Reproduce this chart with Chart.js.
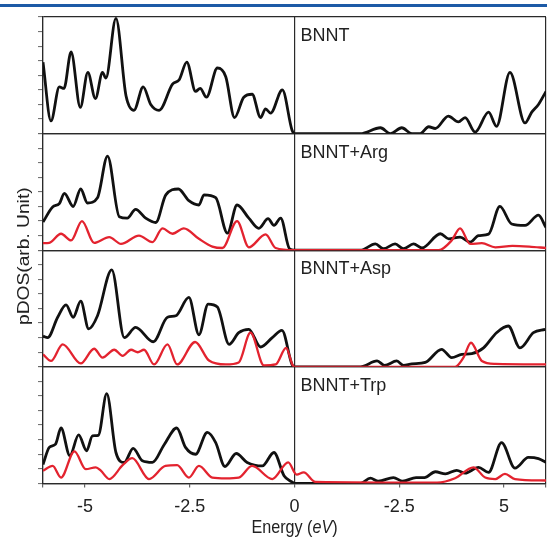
<!DOCTYPE html>
<html>
<head>
<meta charset="utf-8">
<script src="https://cdn.jsdelivr.net/npm/chart.js@4.4.0/dist/chart.umd.min.js"></script>
<style>
  html, body { margin: 0; padding: 0; background: #fff; overflow: hidden; }
  #wrap { position: relative; width: 547px; height: 538px; overflow: hidden; }
  #topRule { position: absolute; left: 0; top: 4px; width: 547px; height: 3px; background: #1c5aa6; }
  canvas { position: absolute; left: 0; top: 0; }
</style>
</head>
<body>
<div id="wrap">
  <canvas id="dosChart" width="555" height="538"></canvas>
  <div id="topRule"></div>
</div>
<script>
// panel names, top to bottom
const panelNames = ['BNNT', 'BNNT+Arg', 'BNNT+Asp', 'BNNT+Trp'];

// x axis ticks (the original labels the +2.5 tick as "-2.5")
const tickValues = [-5, -2.5, 0, 2.5, 5];
const tickLabels = ['-5', '-2.5', '0', '-2.5', '5'];

// BNNT, total DOS
const bnntE = [-6.0, -5.81, -5.61, -5.5, -5.33, -5.11, -4.93, -4.75, -4.58, -4.5, -4.26, -4.02, -3.83, -3.61, -3.43, -3.23, -2.91, -2.75, -2.57, -2.36, -2.25, -2.1, -1.84, -1.64, -1.43, -1.21, -1.01, -0.81, -0.69, -0.57, -0.29, -0.06, 0, 1.57, 2.05, 2.29, 2.56, 2.8, 3.0, 3.2, 3.36, 3.67, 3.91, 4.07, 4.31, 4.63, 4.82, 5.14, 5.5, 5.66, 5.82, 6.0];
const bnntDos = [4.9, 0.87, 3.2, 3.1, 5.6, 1.8, 4.2, 2.4, 4.2, 3.8, 7.9, 2.6, 1.6, 3.2, 2.0, 1.6, 3.4, 3.7, 4.9, 2.9, 3.1, 2.5, 4.5, 3.9, 1.1, 2.5, 2.7, 1.1, 1.7, 1.4, 3.0, 0.25, 0, 0, 0.4, 0, 0.4, 0, 0, 0.47, 0.35, 1.2, 0.8, 1.1, 0.1, 1.47, 0.5, 4.2, 0.73, 1.47, 2.0, 2.9];

// BNNT+Arg
const argE = [-6.0, -5.77, -5.61, -5.49, -5.28, -5.1, -4.94, -4.7, -4.46, -4.18, -3.99, -3.79, -3.55, -3.31, -3.07, -2.77, -2.52, -2.28, -2.16, -1.88, -1.6, -1.37, -1.09, -0.85, -0.63, -0.49, -0.33, -0.12, 0, 1.57, 1.93, 2.12, 2.4, 2.6, 2.84, 3.04, 3.48, 3.68, 3.95, 4.19, 4.39, 4.63, 4.9, 5.18, 5.5, 5.82, 6.0];
const argDos = [1.93, 2.97, 3.2, 3.9, 3.0, 4.2, 3.24, 3.6, 6.46, 2.3, 2.2, 2.8, 2.2, 1.9, 3.8, 4.2, 3.4, 3.1, 3.8, 3.6, 1.17, 3.1, 2.2, 1.5, 2.16, 1.7, 2.2, 0.1, 0, 0, 0.43, 0.1, 0.43, 0.1, 0.43, 0.15, 1.13, 0.78, 0.9, 0.55, 1.0, 1.1, 3.0, 1.8, 1.7, 2.4, 1.55];
const argPE = [-6.0, -5.85, -5.57, -5.33, -5.07, -4.78, -4.42, -4.14, -3.71, -3.39, -3.15, -2.91, -2.64, -2.28, -1.96, -1.72, -1.37, -1.09, -0.69, -0.45, 0, 3.44, 3.75, 3.95, 4.19, 4.47, 4.79, 5.2, 5.6, 6.0];
const argPdos = [0.48, 0.5, 1.13, 0.67, 2.0, 0.5, 0.9, 0.43, 1.0, 0.55, 1.5, 1.13, 1.5, 0.78, 0.25, 0.15, 2.0, 0.2, 1.08, 0.15, 0, 0, 0.67, 1.5, 0.43, 0.48, 0.2, 0.3, 0.25, 0.15];

// BNNT+Asp
const aspE = [-6.0, -5.89, -5.65, -5.45, -5.28, -5.1, -4.91, -4.7, -4.36, -4.06, -3.79, -3.37, -3.03, -2.83, -2.52, -2.28, -2.06, -1.84, -1.56, -1.33, -1.09, -0.81, -0.53, -0.3, -0.06, 0, 1.57, 1.97, 2.15, 2.44, 2.6, 2.8, 3.12, 3.51, 3.75, 3.99, 4.23, 4.51, 4.82, 5.1, 5.38, 5.7, 5.98];
const aspDos = [2.1, 2.0, 3.4, 4.25, 3.4, 4.5, 2.6, 3.5, 6.65, 2.0, 2.7, 1.72, 3.4, 3.5, 4.76, 2.2, 4.3, 4.1, 1.54, 2.34, 2.57, 1.36, 2.0, 2.5, 0.16, 0, 0, 0.4, 0.1, 0.4, 0.1, 0.2, 0.3, 1.2, 0.63, 0.85, 0.9, 1.3, 2.34, 2.8, 1.3, 2.34, 2.57];
const aspPE = [-6.0, -5.81, -5.53, -5.1, -4.78, -4.58, -4.3, -4.1, -3.9, -3.74, -3.59, -3.35, -3.03, -2.8, -2.37, -2.04, -1.64, -1.33, -1.05, -0.73, -0.45, -0.2, -0.05, 0, 3.83, 4.03, 4.21, 4.47, 4.79, 6.0];
const aspPdos = [0.85, 0.4, 1.54, 0.23, 1.24, 0.63, 1.17, 0.75, 1.17, 1.0, 1.17, 0.16, 1.54, 0.16, 1.7, 0.43, 0.16, 0.3, 2.34, 0.1, 0.16, 1.3, 0.15, 0, 0, 0.63, 1.65, 0.4, 0.2, 0.16];

// BNNT+Trp
const trpE = [-6.0, -5.85, -5.7, -5.57, -5.36, -5.15, -4.96, -4.82, -4.68, -4.48, -4.26, -4.06, -3.85, -3.63, -3.39, -3.11, -2.81, -2.6, -2.36, -2.08, -1.88, -1.66, -1.39, -1.13, -0.77, -0.49, -0.25, -0.06, 0, 1.57, 1.81, 2.0, 2.36, 2.58, 2.9, 3.1, 3.36, 3.6, 3.87, 4.07, 4.39, 4.63, 4.94, 5.26, 5.58, 5.82, 6.0];
const trpDos = [1.3, 2.47, 2.7, 3.8, 1.9, 3.33, 2.24, 3.26, 3.3, 6.16, 2.12, 1.44, 2.4, 1.55, 1.44, 2.65, 3.8, 2.47, 2.0, 3.5, 2.8, 1.16, 2.05, 1.44, 1.2, 2.12, 0.53, 0.1, 0, 0, 0.36, 0.15, 0.4, 0.15, 0.4, 0.4, 0.8, 0.65, 0.9, 0.7, 1.1, 0.76, 2.8, 1.05, 1.78, 1.7, 1.44];
const trpPE = [-6.0, -5.77, -5.57, -5.25, -4.98, -4.74, -4.62, -4.42, -4.1, -3.87, -3.47, -3.08, -2.8, -2.52, -2.28, -1.96, -1.64, -1.33, -1.01, -0.53, -0.15, 0.05, 0.22, 0.5, 3.4, 3.83, 4.27, 4.55, 4.79, 5.02, 5.26, 6.0];
const trpPdos = [0.87, 1.2, 0.4, 2.2, 0.98, 1.1, 0.87, 0.3, 1.25, 1.73, 0.3, 1.2, 1.25, 0.4, 1.2, 0.4, 0.35, 0.4, 1.2, 0.3, 1.44, 0.6, 0.75, 0.1, 0.05, 0.35, 1.1, 0.4, 0.3, 0.65, 0.3, 0.2];

const BLACK = '#111111';
const RED = '#e3232f';
const plainFont = "'Liberation Sans', Arial, sans-serif";

const toPoints = (xs, ys) => xs.map((x, i) => ({ x: x, y: ys[i] }));

function line(xs, ys, axis, color, width, order) {
    return {
        data: toPoints(xs, ys),
        yAxisID: axis,
        borderColor: color,
        borderWidth: width,
        pointRadius: 0,
        cubicInterpolationMode: 'monotone',
        fill: false,
        order: order
    };
}

// stacked y scales: the first one defined ends up at the bottom
const panelAxes = ['yBnnt', 'yArg', 'yAsp', 'yTrp'];

function panelScale() {
    return {
        type: 'linear',
        position: 'left',
        stack: 'dos',
        stackWeight: 1,
        min: 0,
        max: 8,
        ticks: { display: false, stepSize: 1 },
        grid: {
            color: (c) => (c.tick && (c.tick.value === 0 || c.tick.value === 8)) ? '#2a2a2a' : 'rgba(0,0,0,0)',
            lineWidth: 1.2,
            tickColor: '#666',
            tickLength: 5,
            tickWidth: 1
        },
        border: { display: true, color: '#2a2a2a', width: 1.2 }
    };
}

// draws panel names, axis titles
const labelsPlugin = {
    id: 'labelsPlugin',
    afterDraw(chart) {
        const { ctx, scales, chartArea } = chart;
        const x0 = scales.x.getPixelForValue(0);
        ctx.save();
        ctx.fillStyle = '#222';
        ctx.textBaseline = 'alphabetic';
        ctx.textAlign = 'left';
        ctx.font = '18px ' + plainFont;
        panelAxes.forEach((id, i) => {
            ctx.fillText(panelNames[i], x0 + 6, scales[id].top + 24);
        });

        // y title, stretched along its length like the original
        ctx.save();
        ctx.translate(25, (chartArea.top + chartArea.bottom) / 2 + 6);
        ctx.rotate(-Math.PI / 2);
        ctx.scale(1.2, 1);
        ctx.textAlign = 'center';
        ctx.textBaseline = 'middle';
        ctx.font = '16px ' + plainFont;
        ctx.fillText('pDOS(arb. Unit)', 0, 0);
        ctx.restore();

        // x title with italic unit, squeezed like a narrow face
        const parts = [
            { t: 'Energy (', f: '19px ' + plainFont },
            { t: 'eV', f: 'italic 19px ' + plainFont },
            { t: ')', f: '19px ' + plainFont }
        ];
        let total = 0;
        parts.forEach(p => { ctx.font = p.f; p.w = ctx.measureText(p.t).width; total += p.w; });
        ctx.save();
        ctx.translate(x0, 533);
        ctx.scale(0.85, 1);
        let x = -total / 2;
        ctx.textAlign = 'left';
        parts.forEach(p => { ctx.font = p.f; ctx.fillText(p.t, x, 0); x += p.w; });
        ctx.restore();
        ctx.restore();
    }
};

const scales = {
    x: {
        type: 'linear',
        min: -6,
        max: 6,
        afterBuildTicks: (axis) => {
            axis.ticks = [-6].concat(tickValues, [6]).map(v => ({ value: v }));
        },
        ticks: {
            autoSkip: false,
            maxRotation: 0,
            padding: 9,
            color: '#222',
            font: { family: plainFont, size: 18 },
            callback: (value) => {
                const i = tickValues.indexOf(value);
                return i >= 0 ? tickLabels[i] : '';
            }
        },
        grid: {
            color: (c) => (c.tick && [-6, 0, 6].includes(c.tick.value)) ? '#2a2a2a' : 'rgba(0,0,0,0)',
            lineWidth: 1.2,
            tickColor: '#666',
            tickLength: 4
        },
        border: { display: true, color: '#2a2a2a', width: 1.2 }
    }
};
// define bottom panel first so that BNNT sits on top
panelAxes.slice().reverse().forEach(id => { scales[id] = panelScale(); });

new Chart(document.getElementById('dosChart'), {
    type: 'line',
    data: {
        datasets: [
            line(bnntE, bnntDos, 'yBnnt', BLACK, 2.8, 1),
            line(argE, argDos, 'yArg', BLACK, 2.8, 1),
            line(argPE, argPdos, 'yArg', RED, 2.3, 0),
            line(aspE, aspDos, 'yAsp', BLACK, 2.8, 1),
            line(aspPE, aspPdos, 'yAsp', RED, 2.3, 0),
            line(trpE, trpDos, 'yTrp', BLACK, 2.8, 1),
            line(trpPE, trpPdos, 'yTrp', RED, 2.3, 0)
        ]
    },
    options: {
        responsive: false,
        animation: false,
        layout: { padding: { left: 38, top: 17, right: 1, bottom: 11 } },
        plugins: {
            legend: { display: false },
            tooltip: { enabled: false }
        },
        scales: scales
    },
    plugins: [labelsPlugin]
});
</script>
</body>
</html>
